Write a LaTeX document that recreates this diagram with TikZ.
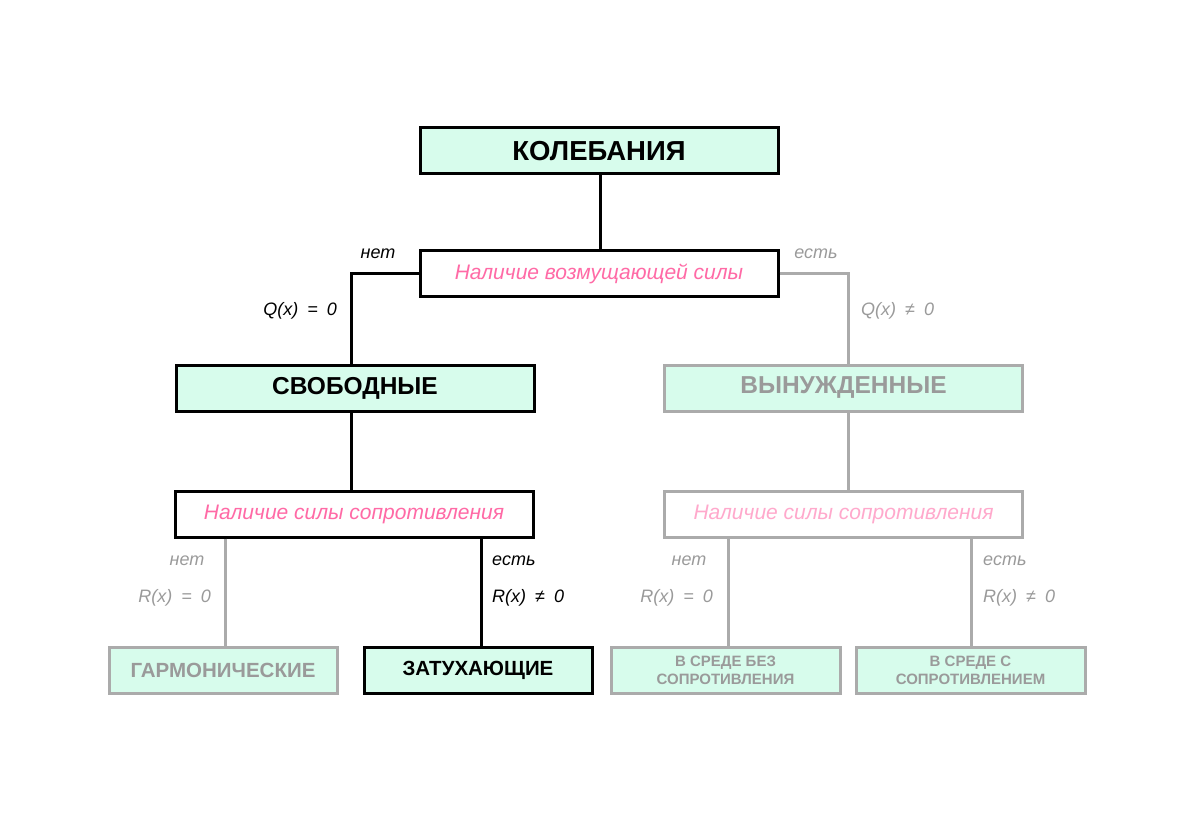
\documentclass[tikz,border=0pt]{standalone}
\usepackage{fontspec}
\setmainfont{Liberation Sans}
\definecolor{mint}{HTML}{D7FCEC}
\definecolor{gline}{HTML}{ABABAB}
\definecolor{gtext}{HTML}{9A9A9A}
\definecolor{pinkA}{HTML}{FF6AA6}
\definecolor{pinkB}{HTML}{FFA9CC}
\newcommand{\eqsp}{\hspace{9pt}}
\tikzset{
  box/.style={draw=black, line width=3pt, inner sep=0pt, minimum height=46pt},
  bigbox/.style={box, fill=mint, minimum width=358pt, font=\fontsize{27.5}{32}\selectfont\bfseries},
  midbox/.style={bigbox, font=\fontsize{24.5}{28}\selectfont\bfseries},
  askbox/.style={box, fill=white, minimum width=358pt, font=\fontsize{21}{25}\selectfont\itshape, text=pinkA},
  smallbox/.style={box, fill=mint, minimum width=228pt, font=\fontsize{20.5}{24}\selectfont\bfseries},
  tinybox/.style={box, fill=mint, minimum width=229pt, align=center, font=\fontsize{15}{18}\selectfont\bfseries},
  greyed/.style={draw=gline, text=gtext},
  conn/.style={line width=3pt, draw=black},
  gconn/.style={line width=3pt, draw=gline},
  lbl/.style={inner sep=0pt, font=\fontsize{18}{21}\selectfont\itshape},
  glbl/.style={lbl, text=gtext},
}
\begin{document}
\begin{tikzpicture}[x=1pt,y=-1pt]
\useasboundingbox (0,0) rectangle (1192,821);
% nodes
\node[bigbox] (top) at (599,151) {КОЛЕБАНИЯ};
\node[askbox] (q1) at (599,273.5) {Наличие возмущающей силы};
\node[midbox] (svob) at (355,388) {СВОБОДНЫЕ};
\node[midbox, greyed] (vyn) at (843.5,388) {ВЫНУЖДЕННЫЕ};
\node[askbox] (r1) at (354,514) {Наличие силы сопротивления};
\node[askbox, draw=gline, text=pinkB] (r2) at (843.5,514) {Наличие силы сопротивления};
\node[smallbox, greyed] (garm) at (223,670.5) {ГАРМОНИЧЕСКИЕ};
\node[smallbox] (zat) at (478,670.5) {ЗАТУХАЮЩИЕ};
\node[tinybox, greyed] (vsb) at (725.5,670) {В СРЕДЕ БЕЗ\\СОПРОТИВЛЕНИЯ};
\node[tinybox, greyed] (vss) at (970.5,670) {В СРЕДЕ С\\СОПРОТИВЛЕНИЕМ};
% helper coordinates
\coordinate (cA) at (600,0);
\coordinate (cL) at (351,0);
\coordinate (cR) at (848,0);
\coordinate (c1) at (225,0);
\coordinate (c2) at (481,0);
\coordinate (c3) at (728,0);
\coordinate (c4) at (971,0);
% connectors
\draw[conn] (cA |- top.south) -- (cA |- q1.north);
\draw[conn] (q1.west) -| (cL |- svob.north);
\draw[gconn] (q1.east) -| (cR |- vyn.north);
\draw[conn] (cL |- svob.south) -- (cL |- r1.north);
\draw[gconn] (cR |- vyn.south) -- (cR |- r2.north);
\draw[gconn] (c1 |- r1.south) -- (c1 |- garm.north);
\draw[conn] (c2 |- r1.south) -- (c2 |- zat.north);
\draw[gconn] (c3 |- r2.south) -- (c3 |- vsb.north);
\draw[gconn] (c4 |- r2.south) -- (c4 |- vss.north);
% labels
\node[lbl] (l1) at (378,254) {нет};
\node[lbl, anchor=east] (l2) at (337,311) {Q(x)\eqsp=\eqsp0};
\node[glbl] (l3) at (816,254) {есть};
\node[glbl, anchor=west] (l4) at (861,311) {Q(x)\eqsp≠\eqsp0};
\node[glbl] (l5) at (187,561) {нет};
\node[glbl, anchor=east] (l6) at (211,598) {R(x)\eqsp=\eqsp0};
\node[lbl, anchor=west] (l7) at (492,561) {есть};
\node[lbl, anchor=west] (l8) at (492,598) {R(x)\eqsp≠\eqsp0};
\node[glbl] (l9) at (689,561) {нет};
\node[glbl, anchor=east] (l10) at (713,598) {R(x)\eqsp=\eqsp0};
\node[glbl, anchor=west] (l11) at (983,561) {есть};
\node[glbl, anchor=west] (l12) at (983,598) {R(x)\eqsp≠\eqsp0};
\end{tikzpicture}
\end{document}
